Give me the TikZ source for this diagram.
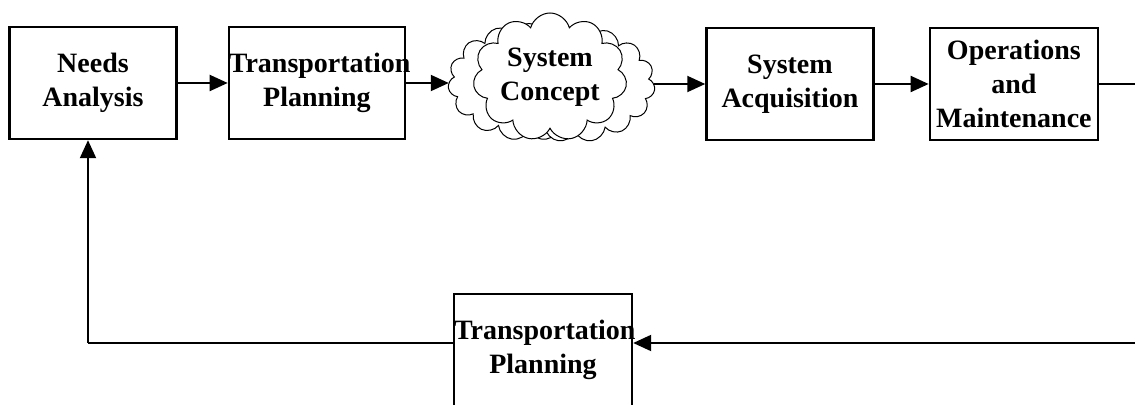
\documentclass[tikz,border=0pt]{standalone}
\usepackage{fontspec}
\setmainfont{Liberation Serif}
\usetikzlibrary{shapes.symbols, arrows.meta, positioning, calc}
\tikzstyle{stage} = [rectangle, minimum width=83.5pt, minimum height=56pt, inner sep=0pt, align=center, draw=black, line width=1.2pt, font=\fontsize{14}{17}\selectfont\bfseries]
\tikzstyle{puff} = [cloud, draw=black, fill=white, line width=0.5pt, cloud ignores aspect, inner sep=0pt]
\tikzstyle{line} = [line width=1pt]
\tikzstyle{arrow} = [line width=1pt, -{Triangle[length=9pt, width=8pt]}]

\begin{document}
\begin{tikzpicture}[x=0.5pt, y=-0.5pt, node distance=26pt]
    \useasboundingbox (0,0) rectangle (1135,405);
    \clip (0,0) rectangle (1135,405);
    % Top row
    \node (needs) [stage] at (93,83) {Needs\\Analysis};
    \node (plan) [stage, right=25pt of needs, text width=88pt] {Transportation\\Planning};
    \node (cloudL) [puff, cloud puffs=15, minimum width=81pt, minimum height=58.5pt] at (529,82) {};
    \node (cloudR) [puff, cloud puffs=15, minimum width=80pt, minimum height=58pt] at (575,84) {};
    \node (concept) [puff, cloud puffs=11, minimum width=77pt, minimum height=64pt, align=center, font=\fontsize{14}{17}\selectfont\bfseries] at (550,77) {System\\Concept};
    \node (acq) [stage, right=25.5pt of cloudR.east, anchor=west] {System\\Acquisition};
    \node (ops) [stage, right=27pt of acq, minimum width=84pt] {Operations\\and\\Maintenance};
    % Bottom row
    \node (replan) [stage, text width=89pt] at (543,350) {Transportation\\Planning};
    \coordinate (turn) at (1145,343);
    \coordinate (corner) at (88,343);

    % Arrows
    \draw [arrow] (needs) -- (plan);
    \draw [arrow] (plan.east) -- (cloudL.west |- plan.east);
    \draw [arrow] (cloudR.east |- acq.west) -- (acq.west);
    \draw [arrow] (acq) -- (ops);
    \draw [line] (ops.east) -| (turn);
    \draw [arrow] (turn) -- (turn -| replan.east);
    \draw [line] (corner -| replan.west) -- (corner);
    \draw [arrow] (corner) -- (corner |- needs.south);
\end{tikzpicture}
\end{document}
